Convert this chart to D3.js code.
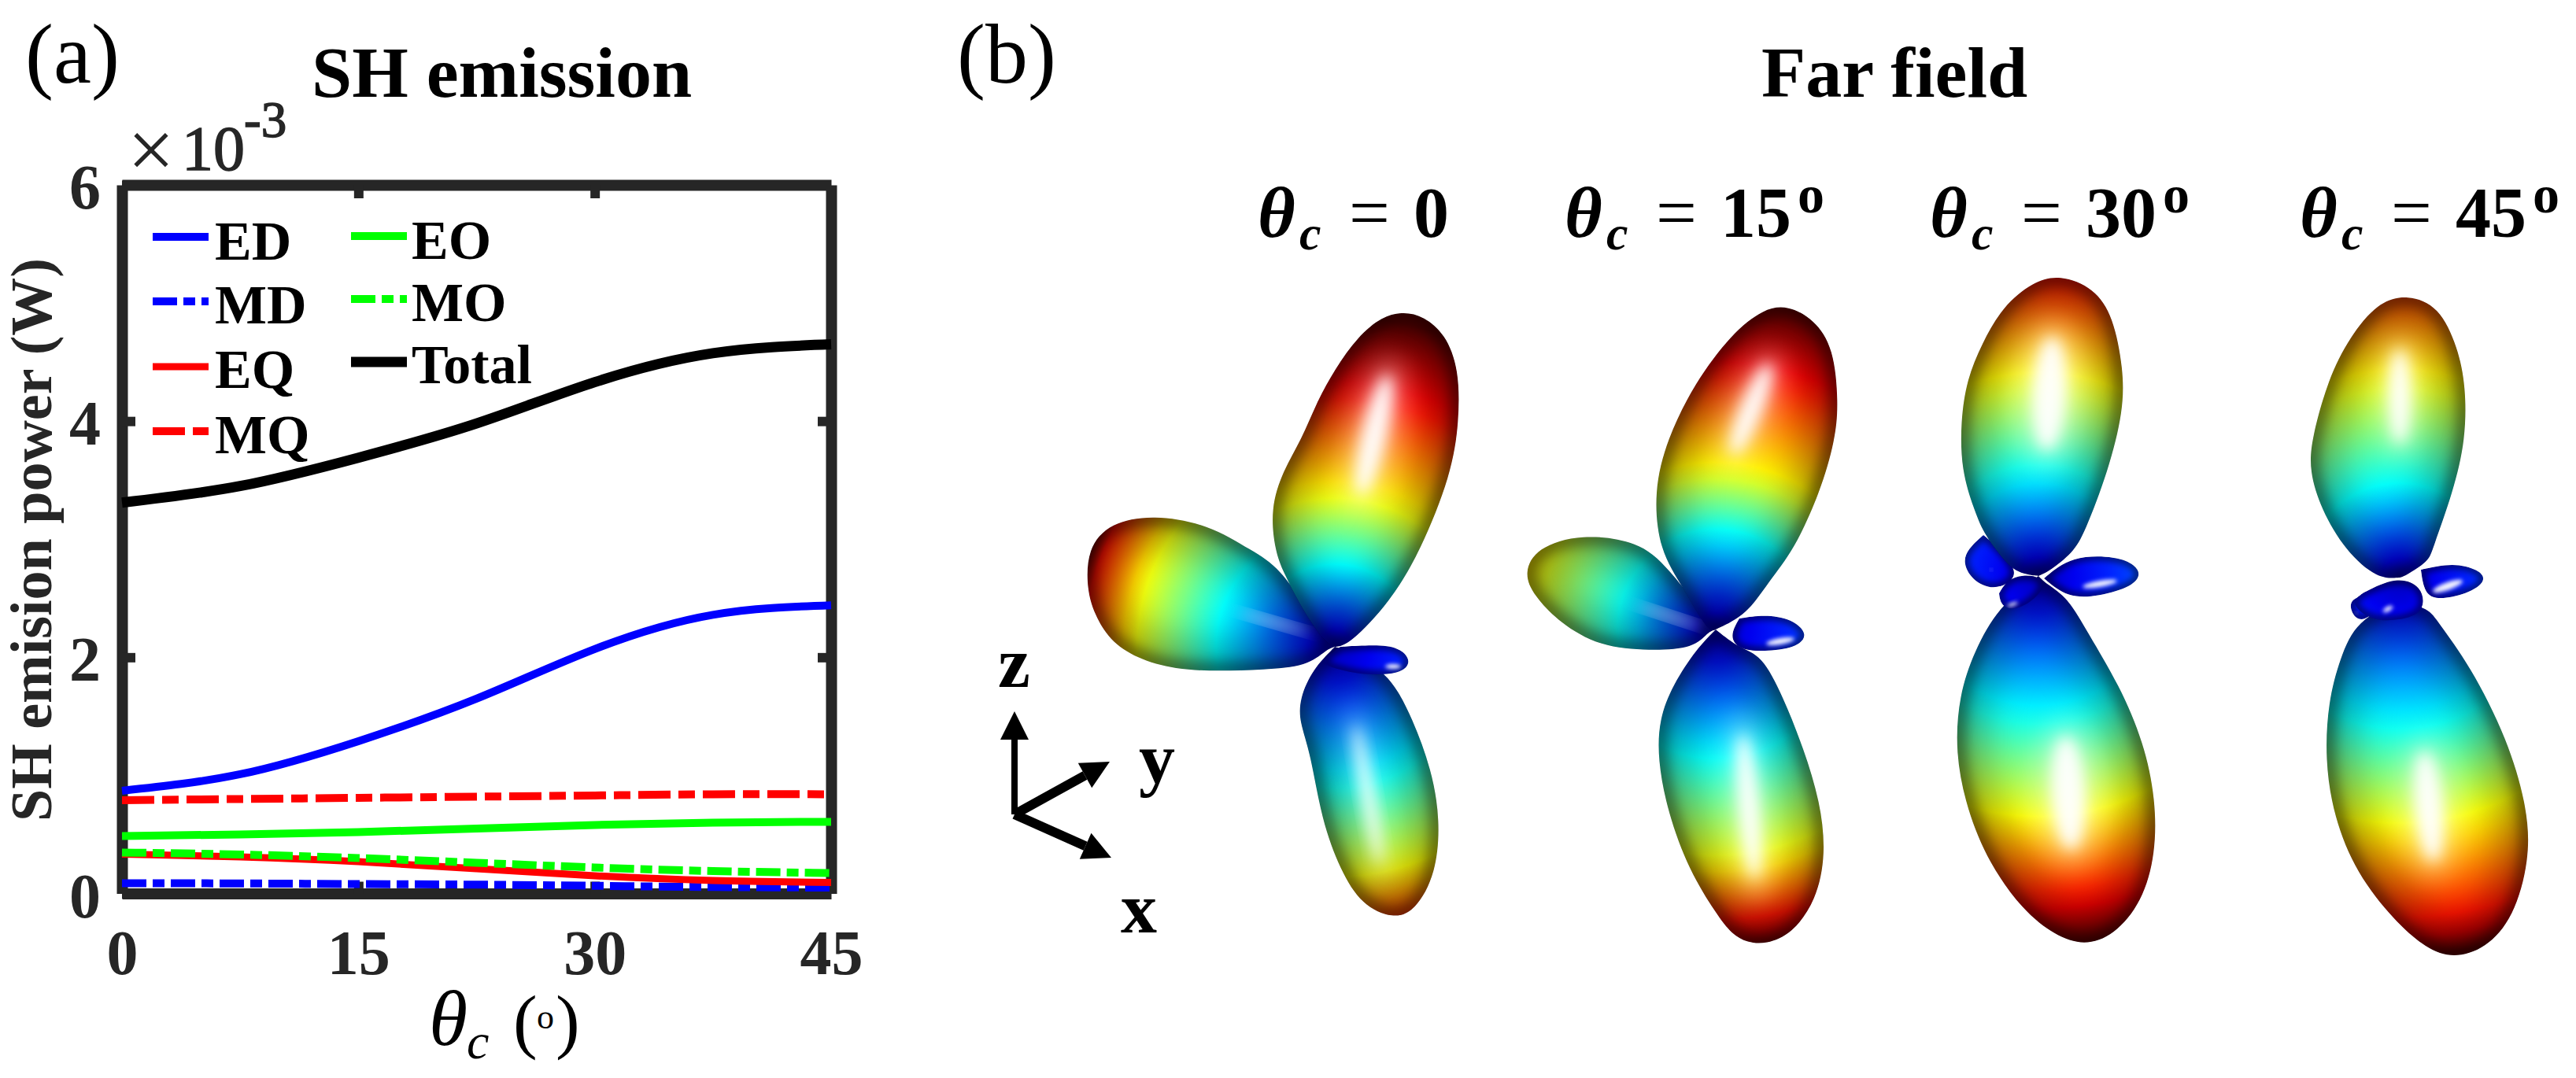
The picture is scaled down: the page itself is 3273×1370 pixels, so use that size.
<!DOCTYPE html>
<html>
<head>
<meta charset="utf-8">
<script src="https://cdn.jsdelivr.net/npm/d3@7"></script>
<style>
  body { margin: 0; background: #fff; }
  text { font-family: "Liberation Serif", serif; }
</style>
</head>
<body>
<script>
// ---- panel (a) data ----
var thetaC = [0, 7.5, 15, 22.5, 30, 37.5, 45];
var ED = [0.87, 1.01, 1.29, 1.65, 2.07, 2.36, 2.44];
var MD = [0.087, 0.085, 0.08, 0.075, 0.065, 0.055, 0.05];
var EQ = [0.333, 0.31, 0.27, 0.21, 0.15, 0.11, 0.093];
var MQ = [0.79, 0.80, 0.81, 0.82, 0.83, 0.84, 0.84];
var EO = [0.487, 0.50, 0.52, 0.55, 0.58, 0.60, 0.607];
var MO = [0.347, 0.33, 0.30, 0.26, 0.22, 0.19, 0.173];
var Total = [3.31, 3.45, 3.69, 3.98, 4.33, 4.575, 4.65];
var xTicks = [0, 15, 30, 45];
var yTicks = [0, 2, 4, 6];

// ---- panel (b) data: far field outlines (dx, up) from each pattern's centre ----
var angles = [0, 15, 30, 45];

var p0Left = [[0,0],[-10,-3],[-35,-25],[-91,-29],[-147,-31],[-203,-29],[-252,-15],[-287,9],[-305,41],[-315,71],[-315,125],[-285,158],[-231,168],[-161,156],[-105,122],[-70,101],[-30,40]];
var p0Top = [[0,0],[18,2],[71,58],[109,122],[148,219],[158,286],[158,353],[140,398],[113,420],[88,426],[60,420],[29,394],[0,353],[-24,309],[-42,264],[-66,224],[-82,175],[-76,122],[-66,96],[-42,49],[-14,7]];
var p0Bottom = [[0,0],[-28,-28],[-45,-66],[-45,-96],[-31,-134],[-17,-220],[7,-284],[34,-328],[74,-346],[102,-336],[129,-288],[134,-220],[123,-156],[99,-92],[71,-36],[22,-6]];
var p0Right = [[7,0],[57,3],[84,-2],[98,-19],[84,-35],[36,-36],[0,-28],[-21,-19]];

var p1Left = [[0,0],[-10,-3],[-27,-24],[-84,-27],[-147,-22],[-198,8],[-232,44],[-244,72],[-228,104],[-171,122],[-98,112],[-62,81]];
var p1Top = [[0,0],[40,19],[68,62],[99,100],[133,175],[152,242],[156,287],[150,358],[125,394],[92,412],[61,408],[20,376],[-27,313],[-62,242],[-79,175],[-72,100],[-41,53],[-10,-3]];
var p1Bottom = [[0,0],[-24,-24],[-55,-71],[-72,-114],[-74,-165],[-61,-233],[-34,-306],[1,-362],[20,-387],[40,-398],[64,-400],[97,-387],[128,-344],[140,-285],[133,-220],[112,-152],[85,-84],[58,-32],[30,-24]];
var p1Right = [[30,14],[61,19],[97,14],[119,-7],[101,-24],[61,-28],[30,-26],[17,-9]];

var p2Left = [[-70,52],[-90,34],[-96,17],[-85,-5],[-57,-19],[-30,-5],[-30,12],[-55,40]];
var p2Top = [[0,0],[14,6],[44,30],[58,53],[89,134],[108,210],[108,263],[95,330],[71,366],[27,383],[-7,374],[-46,342],[-72,295],[-91,250],[-99,196],[-98,134],[-82,85],[-70,55],[-50,28],[-30,4]];
var p2Bottom = [[0,0],[-50,-38],[-82,-96],[-101,-152],[-106,-224],[-91,-297],[-63,-365],[-20,-425],[21,-457],[58,-470],[96,-457],[132,-414],[149,-353],[149,-284],[134,-212],[103,-139],[62,-71],[38,-28],[10,-10]];
var p2Right = [[7,-3],[42,26],[100,25],[123,14],[130,2],[120,-13],[77,-26],[37,-28]];
var p2Front = [[-50,-22],[-48,-37],[-33,-44],[-10,-34],[7,-16],[4,-1],[-20,2],[-40,-5]];

var p3Top = [[0,0],[7,2],[37,21],[41,34],[68,109],[84,176],[84,243],[74,292],[50,345],[10,360],[-28,350],[-64,305],[-91,252],[-112,176],[-115,136],[-100,87],[-69,34],[-28,-2]];
var p3Right = [[27,10],[68,19],[101,10],[111,-4],[87,-21],[41,-30],[30,-13]];
var p3Back = [[-30,-20],[-61,-25],[-64,-40],[-52,-58],[-30,-45]];
var p3Bottom = [[0,-30],[-55,-54],[-76,-103],[-91,-158],[-95,-231],[-84,-304],[-55,-376],[-7,-436],[34,-472],[68,-484],[109,-472],[145,-432],[165,-359],[163,-295],[137,-205],[89,-111],[48,-56],[37,-39]];
var p3Front = [[-47,-20],[-4,2],[29,-11],[32,-41],[10,-53],[-28,-56],[-50,-45],[-61,-30]];

// radius at which a lobe turns cyan, yellow, red, and where the colour map ends
var smallBands = [300, 500, 700, 900];

// lobes in drawing order: outline, colour radii, highlight (dx, up, rx, ry, tilt)
var patterns = [
  {lobes: [
    [p0Left, [150, 257, 322, 335], [-77, 31, 46, 3, 16]],
    [p0Top, [105, 195, 325, 420], [50, 269, 16, 78, 13]],
    [p0Bottom, [172, 295, 370, 450], [42, -188, 7, 90, -10]],
    [p0Right, smallBands, [74, -25, 10, 3, 0]]
  ]},
  {lobes: [
    [p1Left, [120, 240, 400, 500], [-59, 17, 42, 3, 18]],
    [p1Top, [125, 205, 335, 425], [45, 280, 14, 62, 22]],
    [p1Bottom, [161, 296, 375, 410], [42, -225, 13, 92, -5]],
    [p1Right, smallBands, [82, -15, 18, 4, -10]]
  ]},
  {lobes: [
    [p2Left, smallBands, [-60, 8, 1, 1, 0]],
    [p2Top, [130, 255, 390, 470], [14, 232, 22, 72, 3]],
    [p2Bottom, [174, 306, 416, 470], [38, -276, 22, 72, -3]],
    [p2Right, smallBands, [78, -10, 22, 4, -10]],
    [p2Front, smallBands, [-33, -36, 7, 2, -20]]
  ]},
  {lobes: [
    [p3Top, [118, 255, 400, 480], [0, 230, 14, 60, 0]],
    [p3Right, smallBands, [61, -11, 20, 5, -20]],
    [p3Back, smallBands, [-55, -45, 1, 1, 0]],
    [p3Bottom, [185, 315, 442, 480], [37, -291, 18, 70, -5]],
    [p3Front, smallBands, [-15, -40, 7, 3, -30]]
  ]}
];

// ---- layout ----
var width = 3273, height = 1370;
var serif = '"Liberation Serif", serif';
var dark = "#262626";
var centres = [[1696, 822], [2180, 800], [2590, 732], [3049, 734]];
var labelX = [1598, 1988, 2452, 2922];

var svg = d3.select("body").append("svg").attr("width", width).attr("height", height)
  .style("display", "block");
var defs = svg.append("defs");

function put(sel, x, y, str, size, weight, fill) {
  return sel.append("text").attr("x", x).attr("y", y)
    .attr("font-size", size).attr("font-weight", weight || "normal")
    .attr("fill", fill || "#000").text(str);
}

// ---- panel (a) ----
var x = d3.scaleLinear().domain([0, 45]).range([155, 1056]);
var y = d3.scaleLinear().domain([0, 6]).range([1135.5, 235]);
var fmt = d3.format("d");

var axes = svg.append("g");
function styleAxis(g) {
  g.selectAll("path").attr("stroke", dark).attr("stroke-width", 14).attr("fill", "none");
  g.selectAll("line").attr("stroke", dark).attr("stroke-width", 12);
  g.selectAll("text").attr("font-family", serif).attr("font-size", 80)
    .attr("font-weight", "bold").attr("fill", dark);
}
axes.append("g").attr("transform", "translate(0,1135.5)")
  .call(d3.axisBottom(x).tickValues(xTicks).tickFormat(fmt).tickSizeOuter(0).tickSizeInner(-15).tickPadding(46))
  .call(styleAxis);
axes.append("g").attr("transform", "translate(0,235)")
  .call(d3.axisTop(x).tickValues([15, 30]).tickSizeOuter(0).tickSizeInner(-17).tickFormat(""))
  .call(styleAxis);
axes.append("g").attr("transform", "translate(155,0)")
  .call(d3.axisLeft(y).tickValues(yTicks).tickFormat(fmt).tickSizeOuter(0).tickSizeInner(-17).tickPadding(27))
  .call(styleAxis)
  .selectAll("text").attr("dy", "0.37em");
axes.append("g").attr("transform", "translate(1056,0)")
  .call(d3.axisRight(y).tickValues([2, 4]).tickSizeOuter(0).tickSizeInner(-17).tickFormat(""))
  .call(styleAxis);

var dashLong = "41,10,21,10";
var dashThin = "31,8,15,8";
var series = [
  {name: "ED", values: ED, color: "#0000ff", width: 10, dash: null},
  {name: "MD", values: MD, color: "#0000ff", width: 10, dash: dashThin},
  {name: "EQ", values: EQ, color: "#ff0000", width: 9, dash: null},
  {name: "MQ", values: MQ, color: "#ff0000", width: 10, dash: dashLong},
  {name: "EO", values: EO, color: "#00ff00", width: 10, dash: null},
  {name: "MO", values: MO, color: "#00ff00", width: 10, dash: dashThin},
  {name: "Total", values: Total, color: "#000000", width: 13, dash: null}
];

var line = d3.line().x(function (d) { return x(d[0]); }).y(function (d) { return y(d[1]); })
  .curve(d3.curveNatural);

svg.append("g").selectAll("path").data(series).enter().append("path")
  .attr("d", function (s) { return line(s.values.map(function (v, i) { return [thetaC[i], v]; })); })
  .attr("fill", "none")
  .attr("stroke", function (s) { return s.color; })
  .attr("stroke-width", function (s) { return s.width; })
  .attr("stroke-dasharray", function (s) { return s.dash; });

// legend, two columns
var legendPos = [[194, 301, 273, 330], [194, 383, 273, 411], [194, 466, 273, 493], [194, 548, 273, 576],
                 [446, 300, 523, 329], [446, 380, 523, 408], [446, 460, 523, 487]];
var legend = svg.append("g").selectAll("g").data(series).enter().append("g");
legend.append("line")
  .attr("x1", function (s, i) { return legendPos[i][0]; })
  .attr("x2", function (s, i) { return legendPos[i][0] + 71; })
  .attr("y1", function (s, i) { return legendPos[i][1]; })
  .attr("y2", function (s, i) { return legendPos[i][1]; })
  .attr("stroke", function (s) { return s.color; })
  .attr("stroke-width", function (s) { return s.width; })
  .attr("stroke-dasharray", function (s) { return s.dash; });
legend.append("text")
  .attr("x", function (s, i) { return legendPos[i][2]; })
  .attr("y", function (s, i) { return legendPos[i][3]; })
  .attr("font-size", 70).attr("font-weight", "bold")
  .text(function (s) { return s.name; });

put(svg, 32, 105, "(a)", 108);
put(svg, 1216, 105, "(b)", 108);
put(svg, 396, 123, "SH emission", 92, "bold");
put(svg, 2238, 123, "Far field", 92, "bold");
put(svg, 162, 226, "\u00d7", 106, "normal", dark);
put(svg, 231, 216, "10", 80, "normal", dark).attr("stroke", dark).attr("stroke-width", 1.5);
put(svg, 310, 174, "-3", 65, "normal", dark).attr("stroke", dark).attr("stroke-width", 1.5);

put(svg, 0, 0, "SH emision power (W)", 73, "bold", dark)
  .attr("text-anchor", "middle")
  .attr("textLength", 716).attr("lengthAdjust", "spacingAndGlyphs")
  .attr("transform", "translate(65,686) rotate(-90)");

// x axis label
put(svg, 545, 1328, "\u03b8", 100).attr("font-style", "italic");
put(svg, 593, 1345, "c", 64).attr("font-style", "italic");
put(svg, 652, 1328, "(", 92);
put(svg, 682, 1307, "o", 44);
put(svg, 706, 1328, ")", 92);

// ---- panel (b) ----
var jet = d3.scaleLinear()
  .domain([0, 0.11, 0.36, 0.61, 0.86, 1])
  .range(["#000080", "#0000ff", "#00ffff", "#ffff00", "#ff0000", "#600000"]);

var fieldX = d3.scaleLinear().domain([0, 100]).range([0, 100]);
var fieldY = d3.scaleLinear().domain([0, 100]).range([0, -100]);

var outlineLine = d3.line()
  .x(function (d) { return fieldX(d[0]); })
  .y(function (d) { return fieldY(d[1]); })
  .curve(d3.curveBasisClosed);

// repeating the first point pulls the smoothed outline back to the centre
function outline(pts) {
  return outlineLine([pts[0], pts[0]].concat(pts));
}

function blur(id, amount) {
  defs.append("filter").attr("id", id)
    .attr("x", "-100%").attr("y", "-100%").attr("width", "300%").attr("height", "300%")
    .append("feGaussianBlur").attr("stdDeviation", amount);
}
blur("edgeWide", 24);
blur("edgeBig", 9);
blur("edgeSmall", 4);
blur("glowWide", 16);
blur("glowBig", 9);
blur("glowSmall", 2.5);

patterns.forEach(function (pattern, p) {
  var g = svg.append("g").attr("transform", "translate(" + centres[p] + ")");
  pattern.lobes.forEach(function (lobe, l) {
    var pts = lobe[0], bands = lobe[1], glow = lobe[2];
    var id = "p" + p + "l" + l;
    var small = bands === smallBands;

    // colour follows the radius from the centre of the pattern
    var jetOfR = d3.scaleLinear().domain([0, bands[0], bands[1], bands[2], bands[3]])
      .range([0.05, 0.36, 0.61, 0.86, 1]);
    var grad = defs.append("radialGradient").attr("id", id + "g")
      .attr("gradientUnits", "userSpaceOnUse")
      .attr("cx", 0).attr("cy", 0).attr("r", fieldX(bands[3]));
    d3.range(0, 1.001, 0.05).forEach(function (t) {
      grad.append("stop").attr("offset", t).attr("stop-color", jet(jetOfR(t * bands[3])));
    });
    defs.append("clipPath").attr("id", id + "c").append("path").attr("d", outline(pts));

    var lobeG = g.append("g").attr("clip-path", "url(#" + id + "c)");
    lobeG.append("path").attr("d", outline(pts)).attr("fill", "url(#" + id + "g)");
    if (!small) {
      lobeG.append("path").attr("d", outline(pts)).attr("fill", "none")
        .attr("stroke", "#000").attr("stroke-width", 70).attr("stroke-opacity", 0.32)
        .attr("filter", "url(#edgeWide)");
    }
    lobeG.append("path").attr("d", outline(pts)).attr("fill", "none")
      .attr("stroke", "#000")
      .attr("stroke-width", small ? 10 : 18)
      .attr("stroke-opacity", small ? 0.55 : 0.5)
      .attr("filter", small ? "url(#edgeSmall)" : "url(#edgeBig)");

    var glowAt = "translate(" + fieldX(glow[0]) + "," + fieldY(glow[1]) + ") rotate(" + glow[4] + ")";
    if (!small && glow[3] > glow[2]) {
      lobeG.append("ellipse")
        .attr("rx", glow[2] * 2.2).attr("ry", glow[3] * 1.3).attr("transform", glowAt)
        .attr("fill", "#fff").attr("fill-opacity", 0.35).attr("filter", "url(#glowWide)");
    }
    lobeG.append("ellipse")
      .attr("rx", glow[2]).attr("ry", glow[3]).attr("transform", glowAt)
      .attr("fill", "#fff").attr("fill-opacity", 0.95)
      .attr("filter", small ? "url(#glowSmall)" : "url(#glowBig)");
  });
});

// angle labels above each pattern
angles.forEach(function (a, i) {
  var lx = labelX[i];
  var g = svg.append("g");
  put(g, lx, 301, "\u03b8", 92, "bold").attr("font-style", "italic");
  put(g, lx + 53, 317, "c", 62, "bold").attr("font-style", "italic");
  put(g, lx + 116, 301, "=", 92, "normal");
  put(g, lx + 198, 301, a, 90, "bold");
  if (a !== 0) put(g, lx + 296, 270, "o", 68, "bold");
});

// coordinate triad
var triadOrigin = [1289, 1035];
var triad = [
  {name: "z", dir: [0, 131], lx: 1268, ly: 873},
  {name: "y", dir: [121, 67], lx: 1447, ly: 995},
  {name: "x", dir: [123, -55], lx: 1424, ly: 1185}
];
var tg = svg.append("g").attr("transform", "translate(" + triadOrigin + ")");
triad.forEach(function (t) {
  var tipX = fieldX(t.dir[0]), tipY = fieldY(t.dir[1]);
  var len = Math.hypot(tipX, tipY), ux = tipX / len, uy = tipY / len;
  var bx = tipX - ux * 36, by = tipY - uy * 36;
  tg.append("line").attr("x1", 0).attr("y1", 0).attr("x2", bx).attr("y2", by)
    .attr("stroke", "#000").attr("stroke-width", t.name === "z" ? 8 : 12);
  tg.append("polygon").attr("fill", "#000")
    .attr("points", [[tipX, tipY], [bx - uy * 18, by + ux * 18], [bx + uy * 18, by - ux * 18]].join(" "));
  put(svg, t.lx, t.ly, t.name, 92, "bold");
});
</script>
</body>
</html>
